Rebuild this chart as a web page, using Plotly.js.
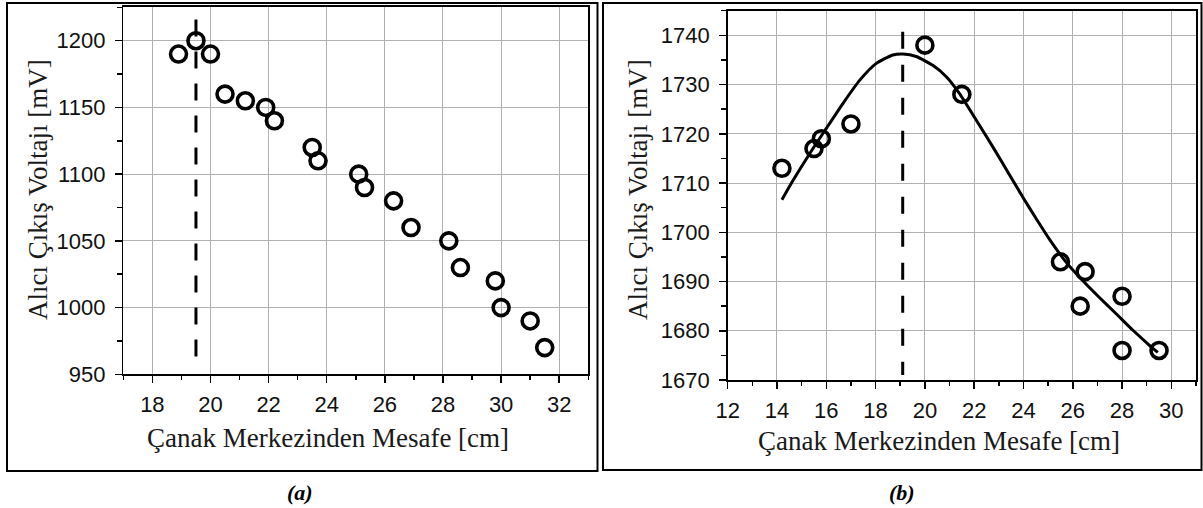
<!DOCTYPE html>
<html>
<head>
<meta charset="utf-8">
<script src="https://cdn.plot.ly/plotly-3.0.1.min.js"></script>
<style>html,body{margin:0;padding:0;background:#fff;}#chart{width:1203px;height:508px;}</style>
</head>
<body>
<div id="chart"></div>
<script>
// ---- data: panel (a) ----
const distA = [18.9, 19.5, 20.0, 20.5, 21.2, 21.9, 22.2, 23.5, 23.7, 25.1, 25.3, 26.3, 26.9, 28.2, 28.6, 29.8, 30.0, 31.0, 31.5];
const voltA = [1190, 1200, 1190, 1160, 1155, 1150, 1140, 1120, 1110, 1100, 1090, 1080, 1060, 1050, 1030, 1020, 1000, 990, 970];
const peakLineAX = [19.5, 19.5];
const peakLineAY = [1216, 962];

// ---- data: panel (b) ----
const distB = [14.2, 15.5, 15.8, 17.0, 20.0, 21.5, 25.5, 26.3, 26.5, 28.0, 28.0, 29.5];
const voltB = [1713, 1717, 1719, 1722, 1738, 1728, 1694, 1685, 1692, 1687, 1676, 1676];
const fitBX = [14.2, 14.66, 15.33, 16.0, 16.68, 17.36, 18.03, 18.7, 19.11, 19.65, 20.32, 20.87, 21.4, 22.08, 22.75, 23.43, 24.0, 24.5, 25.05, 25.72, 26.4, 27.07, 27.75, 28.42, 29.1, 29.45];
const fitBY = [1706.6, 1710.6, 1716.0, 1721.1, 1726.2, 1730.9, 1734.3, 1736.0, 1736.2, 1735.7, 1733.9, 1731.6, 1728.2, 1722.8, 1717.4, 1711.7, 1706.9, 1702.9, 1698.6, 1694.0, 1690.2, 1686.8, 1683.5, 1680.2, 1677.1, 1675.6];
const peakLineBX = [19.1, 19.1];
const peakLineBY = [1740.7, 1671];

// ---- text ----
const yTitle = "Alıcı Çıkış Voltajı [mV]";
const xTitle = "Çanak Merkezinden Mesafe [cm]";
const panelLabels = ["(a)", "(b)"];

const W = 1203, H = 508;
const px = v => v / W;
const py = v => 1 - v / H;

const markerStyle = {symbol: 'circle-open', size: 16, color: '#000', line: {width: 3.6, color: '#000'}};

const traces = [
  {x: peakLineAX, y: peakLineAY, xaxis: 'x', yaxis: 'y', mode: 'lines',
   line: {color: '#000', width: 3, dash: '17px,15px'}, hoverinfo: 'skip'},
  {x: distA, y: voltA, xaxis: 'x', yaxis: 'y', mode: 'markers', marker: markerStyle},
  {x: peakLineBX, y: peakLineBY, xaxis: 'x2', yaxis: 'y2', mode: 'lines',
   line: {color: '#000', width: 3, dash: '17px,16px'}, hoverinfo: 'skip'},
  {x: distB, y: voltB, xaxis: 'x2', yaxis: 'y2', mode: 'markers', marker: markerStyle},
  {x: fitBX, y: fitBY, xaxis: 'x2', yaxis: 'y2', mode: 'lines',
   line: {color: '#000', width: 3, shape: 'spline', smoothing: 0.6}}
];

const tickFont = {family: 'Arial, "Liberation Sans", sans-serif', size: 22, color: '#111'};
const serif = 'Times New Roman, "Liberation Serif", serif';

function axis(extra) {
  return Object.assign({
    showline: true, linecolor: '#000', linewidth: 1.5, mirror: true,
    showgrid: true, gridcolor: '#b0b0b0', gridwidth: 1,
    zeroline: false,
    ticks: 'outside', ticklen: 7, tickwidth: 1.5, tickcolor: '#000',
    tickfont: tickFont, fixedrange: true
  }, extra);
}

const layout = {
  width: W, height: H,
  margin: {l: 0, r: 0, t: 0, b: 0},
  paper_bgcolor: '#fff', plot_bgcolor: '#fff',
  showlegend: false,
  xaxis: axis({domain: [px(123.3), px(588.3)], range: [17, 33], dtick: 2, tick0: 0,
    minor: {ticks: 'outside', ticklen: 4, dtick: 1, tick0: 0, tickcolor: '#000', tickwidth: 1.5, showgrid: false},
    anchor: 'y', ticklabelstandoff: 3}),
  yaxis: axis({domain: [py(374.3), py(6.7)], range: [950, 1225.5], dtick: 50, tick0: 0,
    minor: {ticks: 'outside', ticklen: 5, dtick: 25, tick0: 0, tickcolor: '#000', tickwidth: 1.5, showgrid: false},
    anchor: 'x', ticklabelstandoff: 5}),
  xaxis2: axis({domain: [px(727.7), px(1196)], range: [12, 31], dtick: 2, tick0: 0,
    minor: {ticks: 'outside', ticklen: 4, dtick: 1, tick0: 0, tickcolor: '#000', tickwidth: 1.5, showgrid: false},
    anchor: 'y2', ticklabelstandoff: 3}),
  yaxis2: axis({domain: [py(380), py(10.7)], range: [1670, 1745], dtick: 10, tick0: 0,
    minor: {ticks: 'outside', ticklen: 5, dtick: 5, tick0: 0, tickcolor: '#000', tickwidth: 1.5, showgrid: false},
    anchor: 'x2', ticklabelstandoff: 5}),
  shapes: [
    {type: 'rect', xref: 'paper', yref: 'paper', x0: px(7), x1: px(597.5), y0: py(471), y1: py(3),
     line: {color: '#000', width: 2}},
    {type: 'rect', xref: 'paper', yref: 'paper', x0: px(603), x1: px(1201.5), y0: py(470), y1: py(3),
     line: {color: '#000', width: 2}}
  ],
  annotations: [
    {text: yTitle, xref: 'paper', yref: 'paper', x: px(38), y: py(190), textangle: -90,
     showarrow: false, xanchor: 'center', yanchor: 'middle', font: {family: serif, size: 27, color: '#1a1a1a'}},
    {text: yTitle, xref: 'paper', yref: 'paper', x: px(638), y: py(190), textangle: -90,
     showarrow: false, xanchor: 'center', yanchor: 'middle', font: {family: serif, size: 27, color: '#1a1a1a'}},
    {text: xTitle, xref: 'paper', yref: 'paper', x: px(327.5), y: py(438), showarrow: false,
     xanchor: 'center', yanchor: 'middle', font: {family: serif, size: 27, color: '#1a1a1a'}},
    {text: xTitle, xref: 'paper', yref: 'paper', x: px(939), y: py(441), showarrow: false,
     xanchor: 'center', yanchor: 'middle', font: {family: serif, size: 27, color: '#1a1a1a'}},
    {text: '<b><i>' + panelLabels[0] + '</i></b>', xref: 'paper', yref: 'paper', x: px(300), y: py(492),
     showarrow: false, xanchor: 'center', yanchor: 'middle', font: {family: serif, size: 22, color: '#000'}},
    {text: '<b><i>' + panelLabels[1] + '</i></b>', xref: 'paper', yref: 'paper', x: px(902), y: py(492),
     showarrow: false, xanchor: 'center', yanchor: 'middle', font: {family: serif, size: 22, color: '#000'}}
  ]
};

Plotly.newPlot('chart', traces, layout, {displayModeBar: false, staticPlot: true});
</script>
</body>
</html>
